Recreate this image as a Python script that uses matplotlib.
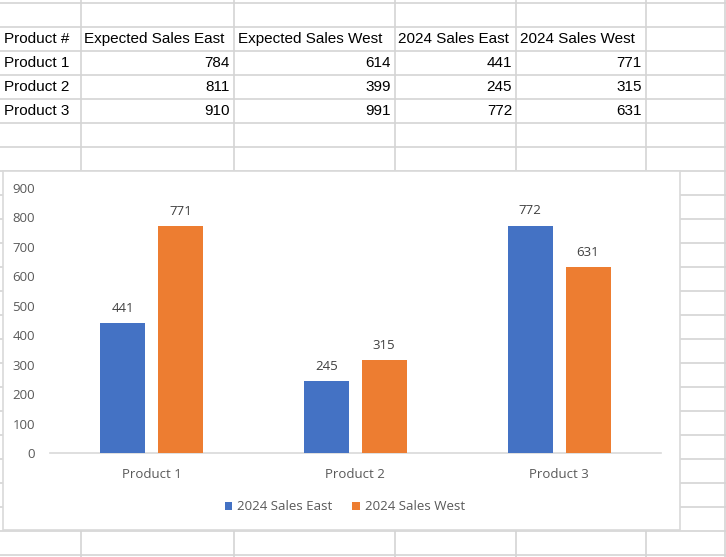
import matplotlib
matplotlib.use("Agg")
import matplotlib.pyplot as plt
from matplotlib.patches import Rectangle

# ---- data ----
products = ["Product 1", "Product 2", "Product 3"]
headers = ["Product #", "Expected Sales East", "Expected Sales West", "2024 Sales East", "2024 Sales West"]
expected_east = [784, 811, 910]
expected_west = [614, 399, 991]
sales_east = [441, 245, 772]
sales_west = [771, 315, 631]
y_ticks = [0, 100, 200, 300, 400, 500, 600, 700, 800, 900]

W, H = 726, 557
fig = plt.figure(figsize=(W / 100, H / 100), dpi=100)
fig.patch.set_facecolor("white")

table_font = "Liberation Sans"
chart_font = "Open Sans"

# ---- spreadsheet background ----
bg = fig.add_axes([0, 0, 1, 1])
bg.set_xlim(0, W)
bg.set_ylim(H, 0)
bg.axis("off")
grid_c = "#d4d4d4"
col_lines = [81, 234, 394.5, 516, 645.5, 725]
row_lines = [2.5 + 24 * i for i in range(24)]
for x in col_lines:
    bg.plot([x, x], [0, H], color=grid_c, lw=1.2, zorder=1)
for y in row_lines:
    bg.plot([0, W], [y, y], color=grid_c, lw=1.2, zorder=1)

# table text
col_left = [0, 81, 234, 394.5, 516]
col_right = [81, 234, 394.5, 516, 645.5]
fs_table = 11.0
hy = 39
for i, h in enumerate(headers):
    bg.text(col_left[i] + 3.5, hy, h, ha="left", va="center", fontsize=fs_table,
            family=table_font, color="black", zorder=3)
rows = list(zip(products, expected_east, expected_west, sales_east, sales_west))
for r, row in enumerate(rows):
    y = hy + 24 * (r + 1)
    bg.text(col_left[0] + 3.5, y, row[0], ha="left", va="center", fontsize=fs_table,
            family=table_font, color="black", zorder=3)
    for c in range(1, 5):
        bg.text(col_right[c] - 4, y, str(row[c]), ha="right", va="center", fontsize=fs_table,
                family=table_font, color="black", zorder=3)

# chart container
bg.add_patch(Rectangle((3, 171), 677, 359, facecolor="white", edgecolor="#d9d9d9", lw=1.2, zorder=2))

# ---- chart ----
x0, x1 = 49.5, 661
y0, y900 = 453, 188
ax = fig.add_axes([x0 / W, (H - y0) / H, (x1 - x0) / W, (y0 - y900) / H])
ax.set_facecolor("none")
ax.set_xlim(-0.5, 2.5)
ax.set_ylim(0, 900)
bw = 45 / 204
off = (45 + 13) / 2 / 204
xs = range(len(products))
fs_chart = 9.5
b1 = ax.bar([x - off for x in xs], sales_east, width=bw, color="#4472C4", label="2024 Sales East", zorder=3)
b2 = ax.bar([x + off for x in xs], sales_west, width=bw, color="#ED7D31", label="2024 Sales West", zorder=3)
for bars in (b1, b2):
    ax.bar_label(bars, padding=6, fontsize=fs_chart, color="#404040", family=chart_font)
for s in ["top", "right", "left"]:
    ax.spines[s].set_visible(False)
ax.spines["bottom"].set_color("#d9d9d9")
ax.spines["bottom"].set_linewidth(1.2)
ax.set_yticks(y_ticks)
ax.set_xticks(list(xs))
ax.set_xticklabels(products)
ax.tick_params(axis="both", length=0, labelsize=fs_chart, labelcolor="#595959")
ax.tick_params(axis="y", pad=10.4)
ax.tick_params(axis="x", pad=10.5)
for lab in ax.get_xticklabels() + ax.get_yticklabels():
    lab.set_family(chart_font)
leg = ax.legend(loc="center", bbox_to_anchor=((345 - x0) / (x1 - x0), (y0 - 507) / (y0 - y900)),
                ncol=2, frameon=False, prop={"family": chart_font, "size": fs_chart},
                handlelength=0.55, handleheight=0.6, handletextpad=0.4, columnspacing=1.5)
for t in leg.get_texts():
    t.set_color("#595959")

fig.savefig("out.png", dpi=100)
